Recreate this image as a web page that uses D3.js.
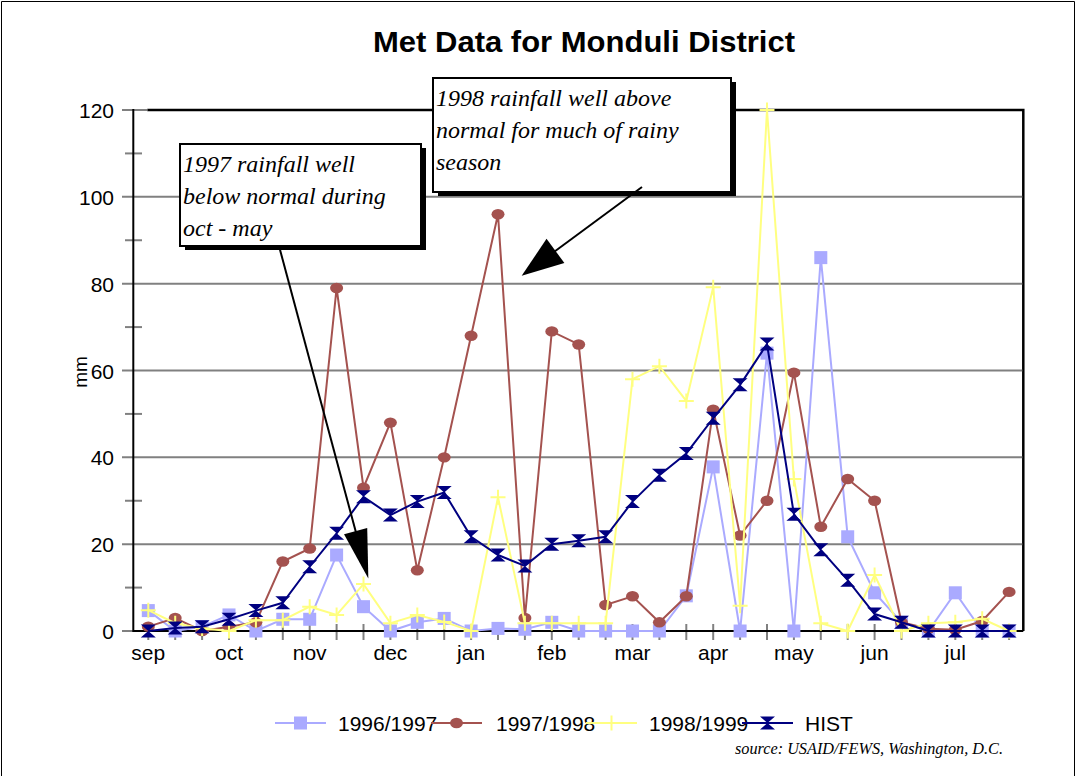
<!DOCTYPE html>
<html>
<head>
<meta charset="utf-8">
<script src="https://cdn.jsdelivr.net/npm/d3@7"></script>
<style>
  html, body { margin: 0; padding: 0; background: #fff; }
  svg { display: block; }
</style>
</head>
<body>
<svg id="chart" width="1076" height="776"></svg>
<script>
// Dekadal rainfall (mm), three dekads per month, Sep to Jul
const months = ["sep", "oct", "nov", "dec", "jan", "feb", "mar", "apr", "may", "jun", "jul"];
const dekads = months.flatMap(m => [m + "-1", m + "-2", m + "-3"]);

const rain9697 = [4.7, 0, 1, 3.7, 0, 2.7, 2.7, 17.5, 5.6, 0, 2, 2.9, 0, 0.6, 0.4, 2, 0, 0, 0, 0, 8.1, 37.8, 0, 64, 0, 86, 21.7, 8.8, 2, 0, 8.8, 0, 0];
const rain9798 = [1, 3, 0, 1, 2, 16, 19, 79, 33, 48, 14, 40, 68, 96, 3, 69, 66, 6, 8, 2, 8, 51, 22, 30, 59.5, 24, 35, 30, 2, 0.5, 0.3, 2.3, 9];
const rain9899 = [4.8, 1.8, 0.6, 0, 2.5, 2.5, 5.6, 3.7, 10.8, 1.8, 3.7, 2.1, 0, 30.8, 1.8, 1.8, 1.8, 1.8, 58, 61, 53, 79.2, 5.8, 120, 35, 1.8, 0, 12.9, 0, 1.8, 2, 2.8, 0];
const rainHist = [0, 0.7, 1, 2.7, 4.7, 6.5, 14.8, 22.5, 30.9, 26.7, 29.8, 31.9, 21.7, 17.5, 15, 20, 20.8, 21.7, 29.8, 35.9, 40.9, 49, 56.7, 66.1, 26.9, 18.7, 11.7, 3.9, 2, 0, 0, 0, 0];

const seriesNames = ["1996/1997", "1997/1998", "1998/1999", "HIST"];
const yTicks = [0, 20, 40, 60, 80, 100, 120];
const yMinorTicks = [10, 30, 50, 70, 90, 110];

const series = [
  { name: seriesNames[0], values: rain9697, color: "#AAAAFF", marker: "square" },
  { name: seriesNames[1], values: rain9798, color: "#A4524F", marker: "circle" },
  { name: seriesNames[2], values: rain9899, color: "#FFFF80", marker: "plus" },
  { name: seriesNames[3], values: rainHist, color: "#000080", marker: "hourglass" }
];

// Callouts: tip given in chart units (dekad position, mm)
const notes = [
  { lines: ["1997 rainfall well", "below normal during", "oct - may"],
    box: [180, 144, 241, 102], tail: [279, 246], tip: [8.18, 12.1], head: [49, 12] },
  { lines: ["1998 rainfall well above", "normal for much of rainy", "season"],
    box: [433, 78, 298, 114], tail: [642, 187], tip: [13.88, 81.8], head: [42, 15] }
];

const svg = d3.select("#chart");
const plot = { left: 133.3, right: 1023.3, top: 110, bottom: 631 };

const x = d3.scalePoint().domain(dekads).range([148.3, 1009.1]);
const y = d3.scaleLinear().domain([0, 120]).range([plot.bottom, plot.top]);
const xPos = i => x(dekads[0]) + i * x.step();

// outer frame
svg.append("path")
  .attr("d", "M1.5,776 V1.5 H1074.5 V776")
  .attr("fill", "none").attr("stroke", "#000").attr("stroke-width", 1);

// title
svg.append("text")
  .attr("x", 584).attr("y", 51.5)
  .attr("text-anchor", "middle")
  .attr("font-family", "Liberation Sans, Arial, sans-serif")
  .attr("font-weight", "bold").attr("font-size", 30)
  .attr("textLength", 422).attr("lengthAdjust", "spacingAndGlyphs")
  .text("Met Data for Monduli District");

// plot border (top and right)
svg.append("path")
  .attr("d", `M${x(dekads[0]) - 1},${plot.top} H${plot.right} V${plot.bottom}`)
  .attr("fill", "none").attr("stroke", "#000").attr("stroke-width", 2.5);

// horizontal grid and y ticks
const gGrid = svg.append("g");
gGrid.selectAll("line.grid")
  .data(yTicks.filter(v => v > 0))
  .join("line")
  .attr("x1", 122).attr("x2", d => d === 120 ? x(dekads[0]) - 1 : plot.right - 1)
  .attr("y1", d => y(d)).attr("y2", d => y(d))
  .attr("stroke", "#808080").attr("stroke-width", 2);
gGrid.append("line")
  .attr("x1", 122).attr("x2", plot.left)
  .attr("y1", y(0)).attr("y2", y(0))
  .attr("stroke", "#808080").attr("stroke-width", 2);
gGrid.selectAll("line.minor")
  .data(yMinorTicks)
  .join("line")
  .attr("x1", 125).attr("x2", 142)
  .attr("y1", d => y(d)).attr("y2", d => y(d))
  .attr("stroke", "#808080").attr("stroke-width", 2);

// x ticks at every dekad
svg.append("g").selectAll("line")
  .data(dekads)
  .join("line")
  .attr("x1", d => x(d)).attr("x2", d => x(d))
  .attr("y1", plot.bottom - 7).attr("y2", plot.bottom + 9)
  .attr("stroke", "#808080").attr("stroke-width", 2);

// axes lines
svg.append("line")
  .attr("x1", plot.left).attr("x2", plot.left)
  .attr("y1", plot.top - 1).attr("y2", plot.bottom + 1)
  .attr("stroke", "#000").attr("stroke-width", 2);
svg.append("line")
  .attr("x1", plot.left).attr("x2", plot.right)
  .attr("y1", plot.bottom).attr("y2", plot.bottom)
  .attr("stroke", "#000").attr("stroke-width", 2);

// y tick labels
svg.append("g").selectAll("text")
  .data(yTicks)
  .join("text")
  .attr("x", 114).attr("y", d => y(d) + 8)
  .attr("text-anchor", "end")
  .attr("font-family", "Liberation Sans, Arial, sans-serif")
  .attr("font-size", 21)
  .text(d => d);

// y axis title
svg.append("text")
  .attr("transform", "translate(87,372) rotate(-90)")
  .attr("text-anchor", "middle")
  .attr("font-family", "Liberation Sans, Arial, sans-serif")
  .attr("font-size", 19)
  .text("mm");

// month labels under first dekad
svg.append("g").selectAll("text")
  .data(months)
  .join("text")
  .attr("x", m => x(m + "-1")).attr("y", 660)
  .attr("text-anchor", "middle")
  .attr("font-family", "Liberation Sans, Arial, sans-serif")
  .attr("font-size", 21)
  .text(m => m);

// marker shapes
function drawMarker(sel, type, color) {
  if (type === "square") {
    sel.append("rect").attr("x", -6.5).attr("y", -6.5).attr("width", 13).attr("height", 13)
      .attr("fill", color);
  } else if (type === "circle") {
    sel.append("ellipse").attr("rx", 6.5).attr("ry", 5.2).attr("fill", color);
  } else if (type === "plus") {
    sel.append("path").attr("d", "M-7.5,0H7.5M0,-7.5V7.5")
      .attr("stroke", color).attr("stroke-width", 2).attr("fill", "none");
  } else {
    sel.append("path").attr("d", "M-7.5,-6.5L7.5,-6.5L0,0L7.5,6.5L-7.5,6.5L0,0Z")
      .attr("fill", color);
  }
}

const line = d3.line().x((d, i) => x(dekads[i])).y(d => y(d));

series.forEach(s => {
  const g = svg.append("g");
  g.append("path")
    .attr("d", line(s.values))
    .attr("fill", "none")
    .attr("stroke", s.color)
    .attr("stroke-width", 2);
  g.selectAll("g.m")
    .data(s.values)
    .join("g")
    .attr("transform", (d, i) => `translate(${x(dekads[i])},${y(d)})`)
    .each(function () { drawMarker(d3.select(this), s.marker, s.color); });
});

// callout boxes with shadow, then pointer arrows over them
notes.forEach(n => {
  const g = svg.append("g");
  const [bxp, byp, bw, bh] = n.box;
  g.append("rect").attr("x", bxp + 5).attr("y", byp + 4).attr("width", bw).attr("height", bh)
    .attr("fill", "#000");
  g.append("rect").attr("x", bxp).attr("y", byp).attr("width", bw).attr("height", bh)
    .attr("fill", "#fff").attr("stroke", "#000").attr("stroke-width", 2);
  g.selectAll("text")
    .data(n.lines)
    .join("text")
    .attr("x", bxp + 3).attr("y", (d, i) => byp + 28 + i * 32)
    .attr("font-family", "Liberation Serif, Times New Roman, serif")
    .attr("font-style", "italic")
    .attr("font-size", 24)
    .text(d => d);

  const tx = xPos(n.tip[0]);
  const ty = y(n.tip[1]);
  const [sx, sy] = n.tail;
  const dx = tx - sx, dy = ty - sy, len = Math.hypot(dx, dy);
  const ux = dx / len, uy = dy / len;
  const bx = tx - ux * n.head[0], by = ty - uy * n.head[0];
  g.append("line")
    .attr("x1", sx).attr("y1", sy).attr("x2", bx + ux * 4).attr("y2", by + uy * 4)
    .attr("stroke", "#000").attr("stroke-width", 2);
  g.append("path")
    .attr("d", `M${tx},${ty}L${bx - uy * n.head[1]},${by + ux * n.head[1]}L${bx + uy * n.head[1]},${by - ux * n.head[1]}Z`)
    .attr("fill", "#000");
});

// legend
const legendItems = [
  { s: series[0], lx: 275, tx: 338 },
  { s: series[1], lx: 431, tx: 496 },
  { s: series[2], lx: 586, tx: 649 },
  { s: series[3], lx: 742, tx: 805 }
];
const gLeg = svg.append("g");
legendItems.forEach(it => {
  const ly = 723;
  gLeg.append("text")
    .attr("x", it.tx).attr("y", ly + 8)
    .attr("font-family", "Liberation Sans, Arial, sans-serif")
    .attr("font-size", 21)
    .text(it.s.name);
});
legendItems.forEach(it => {
  const ly = 723;
  gLeg.append("line")
    .attr("x1", it.lx).attr("x2", it.lx + 51)
    .attr("y1", ly).attr("y2", ly)
    .attr("stroke", it.s.color).attr("stroke-width", 2);
  const m = gLeg.append("g").attr("transform", `translate(${it.lx + 25.5},${ly})`);
  drawMarker(m, it.s.marker, it.s.color);
});

// source note
svg.append("text")
  .attr("x", 1003).attr("y", 754)
  .attr("text-anchor", "end")
  .attr("font-family", "Liberation Serif, Times New Roman, serif")
  .attr("font-style", "italic")
  .attr("font-size", 16)
  .attr("textLength", 268).attr("lengthAdjust", "spacingAndGlyphs")
  .text("source: USAID/FEWS, Washington, D.C.");
</script>
</body>
</html>
